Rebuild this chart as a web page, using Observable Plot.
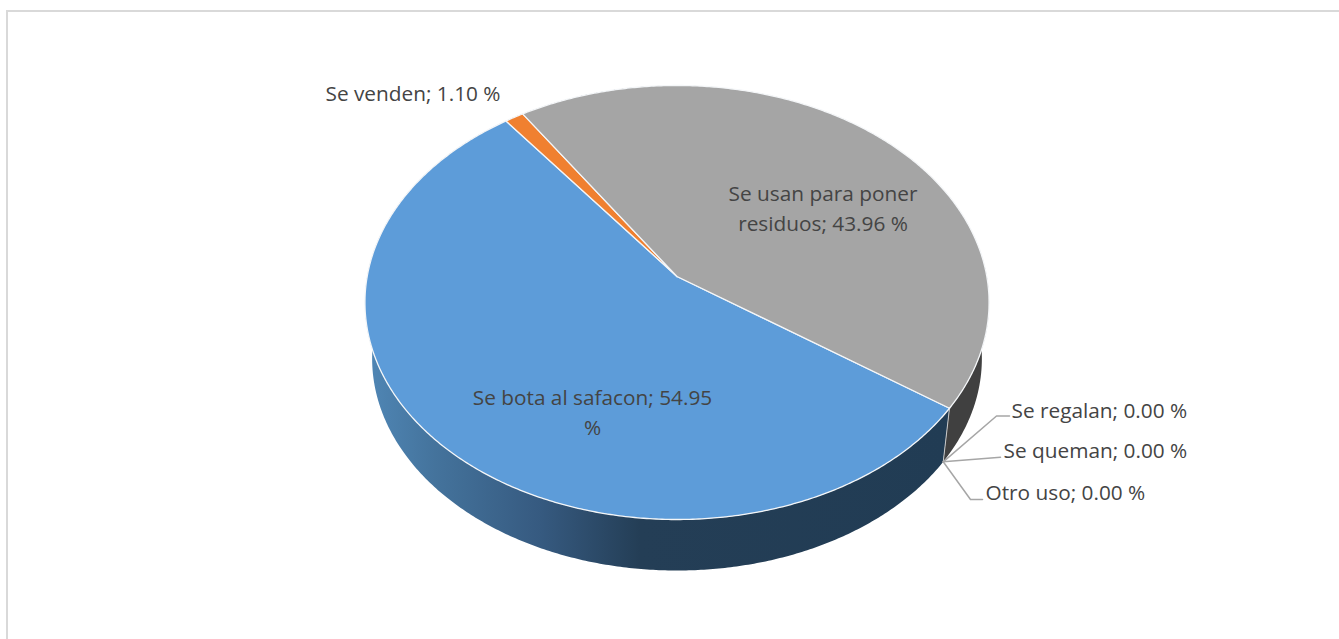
<!DOCTYPE html>
<html>
<head>
<meta charset="utf-8">
<script src="https://cdn.jsdelivr.net/npm/d3@7"></script>
<script src="https://cdn.jsdelivr.net/npm/@observablehq/plot@0.6"></script>
<style>
  html, body { margin: 0; padding: 0; background: #fff; overflow: hidden; }
  svg { display: block; }
</style>
</head>
<body>
<div id="chart"></div>
<script>
// Uso de los envases: share of answers per category, in drawing order.
const categories = ["Se bota al safacon", "Se venden", "Se usan para poner residuos", "Se regalan", "Se queman", "Otro uso"];
const shares = [54.95, 1.10, 43.96, 0.00, 0.00, 0.00];
const faceColors = ["#5d9cd9", "#f08030", "#a5a5a5", "#a5a5a5", "#a5a5a5", "#a5a5a5"];
const lineBreaks = ["safacon; 54.95", null, "para poner", null, null, null];

// Rotation of the first slice, clockwise from twelve o'clock.
const firstAngle = 125;

// Perspective of the disc: apex, radii, foreshortening and thickness.
const W = 1339, H = 639;
const disc = {cx: 676.5, cy: 276, a: 309.8, b: 213.9, k: 0.1198};
const floor = {cy: 332.6, scale: 0.977};

const rad = d => d * Math.PI / 180;
function project(angle, lower) {
  const u = Math.sin(rad(angle)), v = Math.cos(rad(angle));
  const w = 1 + disc.k * v;
  const s = lower ? floor.scale : 1;
  return {
    x: disc.cx + s * disc.a * u / w,
    y: (lower ? floor.cy : disc.cy) - s * disc.b * v / w
  };
}
const apex = {x: disc.cx, y: disc.cy};

// Slice extents from the shares.
const total = d3.sum(shares);
let running = firstAngle;
const slices = categories.map((name, i) => {
  const start = running;
  const end = start + shares[i] / total * 360;
  running = end;
  return {name, i, start, end};
});

function arc(start, end, lower) {
  const n = Math.max(1, Math.ceil(Math.abs(end - start) * 2));
  return d3.range(n + 1).map(j => project(start + (end - start) * j / n, lower));
}
const facePath = s => [apex, ...arc(s.start, s.end, false), apex];
const wallPath = (start, end) => [...arc(start, end, false), ...arc(end, start, true)];

const drawn = slices.filter(s => s.end > s.start);
const seam = firstAngle;
const backLimit = firstAngle - 38; // where the grey wall slips behind the disc

// Data labels: anchor points and leader elbows for the zero-valued slices.
const labelLayout = [
  {x: 592, y: 409.5, anchor: "middle"},
  {x: 325, y: 90.5, anchor: "start"},
  {x: 822.5, y: 205.5, anchor: "middle"},
  {x: 1011, y: 407.5, anchor: "start", elbow: [[996, 415.5], [1009, 415.5]]},
  {x: 1003, y: 447.5, anchor: "start", elbow: [[1000, 456.7]]},
  {x: 985, y: 489.5, anchor: "start", elbow: [[970, 499], [982, 499]]}
];
const labels = categories.map((name, i) => {
  let text = `${name}; ${shares[i].toFixed(2)} %`;
  if (lineBreaks[i]) text = text.replace(lineBreaks[i] + " ", lineBreaks[i] + "\n");
  return {text, ...labelLayout[i]};
});
const leaderOrigin = project(seam, true);
const leaders = labels.filter(d => d.elbow).flatMap((d, i) =>
  [leaderOrigin, ...d.elbow.map(([x, y]) => ({x, y}))].map(p => ({...p, id: i}))
);

// Horizontal shading of the blue side wall.
const wallGradient = () => {
  const defs = d3.create("svg:defs");
  const g = defs.append("linearGradient").attr("id", "blueWall")
    .attr("x1", 0).attr("x2", 1).attr("y1", 0).attr("y2", 0);
  [[0, "#5087b6"], [0.12, "#44739c"], [0.3, "#365a80"], [0.47, "#243e56"], [1, "#213c54"]]
    .forEach(([o, c]) => g.append("stop").attr("offset", o).attr("stop-color", c));
  return defs.node();
};

const xy = {x: "x", y: "y", curve: "linear"};
const textStyle = {
  x: "x", y: "y", text: "text", fill: "#444444", fontSize: 20.8,
  fontFamily: "'Open Sans', sans-serif", lineHeight: 1.45
};

const chart = Plot.plot({
  width: W,
  height: H,
  margin: 0,
  x: {domain: [0, W], axis: null},
  y: {domain: [H, 0], axis: null},
  style: {background: "#fff"},
  marks: [
    wallGradient,
    // Chart border, open to the right and bottom of the page.
    Plot.ruleY([10.5], {x1: 6, x2: W, stroke: "#d9d9d9", strokeWidth: 2}),
    Plot.ruleX([6.5], {y1: 10, y2: H, stroke: "#d9d9d9", strokeWidth: 2}),
    // Side walls.
    Plot.line(wallPath(backLimit, seam), {...xy, fill: "#404040", stroke: "none"}),
    Plot.line(wallPath(seam, seam + 230), {...xy, fill: "url(#blueWall)", stroke: "none"}),
    Plot.line([project(seam, false), project(seam, true)], {...xy, stroke: "#c9c9c9", strokeWidth: 1}),
    // Top faces.
    ...drawn.map(s => Plot.line(facePath(s), {
      ...xy, fill: faceColors[s.i], stroke: "#f4f6f8", strokeWidth: 1.3, strokeLinejoin: "round"
    })),
    // Leader lines and data labels.
    Plot.line(leaders, {...xy, z: "id", stroke: "#a6a6a6", strokeWidth: 1.5}),
    Plot.text(labels.filter(d => d.anchor === "start"), {...textStyle, textAnchor: "start"}),
    Plot.text(labels.filter(d => d.anchor === "middle"), {...textStyle, textAnchor: "middle"})
  ]
});
document.getElementById("chart").append(chart);
</script>
</body>
</html>
